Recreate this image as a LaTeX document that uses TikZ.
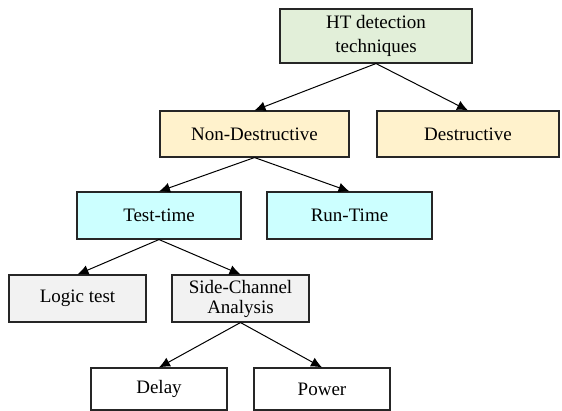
\documentclass[tikz,border=0pt]{standalone}
\usepackage{fontspec}
\setmainfont{Liberation Serif}
\usetikzlibrary{arrows.meta}
\definecolor{htgreen}{HTML}{E2EFD9}
\definecolor{ndyellow}{HTML}{FFF2CC}
\definecolor{ttcyan}{HTML}{CCFFFF}
\definecolor{lgray}{HTML}{F2F2F2}
\tikzset{
  box/.style={draw=black!85, line width=1.1pt, inner sep=0pt, align=center,
    font=\fontsize{19}{24}\selectfont},
  conn/.style={line width=1pt, -{Latex[length=11pt,width=10pt]}}
}
\begin{document}
\begin{tikzpicture}[x=1pt,y=-1pt]
\useasboundingbox (0,0) rectangle (562,411);
\node[box, fill=htgreen, minimum width=192pt, minimum height=54pt] (ht) at (376,36) {HT detection\\techniques};
\node[box, fill=ndyellow, minimum width=189pt, minimum height=46pt] (nd) at (254.5,134) {Non-Destructive};
\node[box, fill=ndyellow, minimum width=182pt, minimum height=46pt] (d) at (468,134) {Destructive};
\node[box, fill=ttcyan, minimum width=164pt, minimum height=47pt] (tt) at (159,215.5) {Test-time};
\node[box, fill=ttcyan, minimum width=165pt, minimum height=47pt] (rt) at (349.5,215.5) {Run-Time};
\node[box, fill=lgray, minimum width=137pt, minimum height=47pt] (lt) at (77.5,298.5) {Logic test};
\node[box, fill=lgray, minimum width=137pt, minimum height=47pt, font=\fontsize{19}{20}\selectfont] (sc) at (240.5,298.5) {Side-Channel\\Analysis};
\node[box, fill=white, minimum width=136pt, minimum height=42pt] (de) at (159,389) {Delay};
\node[box, fill=white, minimum width=136pt, minimum height=42pt] (po) at (322,389) {Power};
\draw[conn] (ht.south) -- (nd.north);
\draw[conn] (ht.south) -- (d.north);
\draw[conn] (nd.south) -- (tt.north);
\draw[conn] (nd.south) -- (rt.north);
\draw[conn] (tt.south) -- (lt.north);
\draw[conn] (tt.south) -- (sc.north);
\draw[conn] (sc.south) -- (de.north);
\draw[conn] (sc.south) -- (po.north);
\end{tikzpicture}
\end{document}
